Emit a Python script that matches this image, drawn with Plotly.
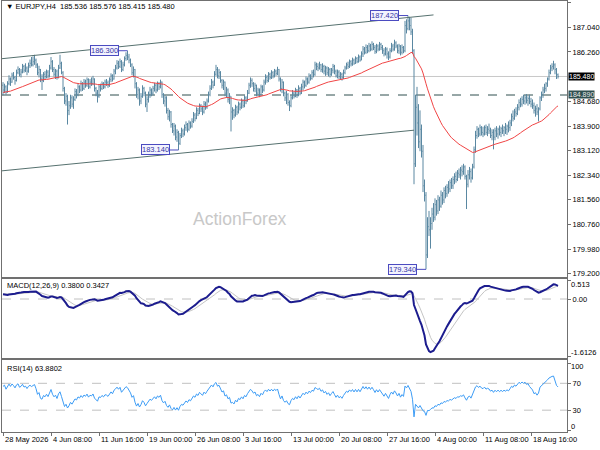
import plotly.graph_objects as go

# EURJPY H4 bars, 28 May - 21 Aug 2026 (open = previous close)
first_open = 185.20
closes = [
    185.05, 185.15, 184.98, 185.25, 185.40, 185.30, 185.52, 185.45, 185.35, 185.60,
    185.70, 185.55, 185.62, 185.80, 185.68, 185.75, 185.65, 185.82, 185.90, 185.85,
    185.95, 186.00, 185.85, 185.60, 185.70, 185.40, 185.35, 185.55, 185.48, 185.62,
    185.50, 185.75, 185.95, 185.70, 185.55, 185.65, 185.45, 185.75, 185.90, 185.60,
    185.10, 184.70, 184.85, 184.40, 184.55, 184.80, 184.60, 184.75, 185.00, 184.90,
    185.15, 185.05, 185.25, 185.10, 185.30, 185.20, 185.38, 185.15, 185.30, 185.25,
    185.40, 185.10, 184.95, 184.85, 185.15, 185.10, 185.25, 185.15, 185.30, 185.28,
    185.20, 185.38, 185.50, 185.40, 185.65, 185.75, 185.90, 185.80, 185.95, 185.70,
    185.85, 186.05, 186.15, 186.10, 186.00, 185.85, 185.60, 185.70, 185.25, 184.90,
    185.05, 184.70, 184.85, 185.10, 184.95, 184.60, 184.75, 184.90, 185.05, 184.95,
    185.10, 185.20, 185.05, 185.25, 185.15, 185.30, 184.90, 184.70, 184.80, 184.40,
    184.20, 184.35, 183.95, 183.75, 183.90, 183.55, 183.70, 183.35, 183.60, 183.75,
    183.65, 183.85, 183.95, 183.80, 184.00, 183.90, 184.05, 184.25, 184.15, 184.40,
    184.30, 184.55, 184.45, 184.35, 184.60, 184.50, 184.70, 184.90, 185.10, 185.30,
    185.20, 185.55, 185.70, 185.50, 185.60, 185.35, 185.20, 185.30, 184.95, 185.05,
    184.75, 184.85, 184.35, 184.40, 184.25, 184.50, 184.35, 184.60, 184.50, 184.70,
    184.55, 184.80, 184.70, 184.95, 185.20, 185.35, 185.25, 185.10, 185.20, 184.95,
    185.05, 184.90, 185.15, 185.05, 185.30, 185.45, 185.35, 185.55, 185.45, 185.60,
    185.50, 185.65, 185.58, 185.70, 185.40, 185.10, 185.30, 184.95, 184.80, 184.90,
    184.65, 184.55, 184.80, 184.95, 184.85, 185.05, 184.90, 185.10, 184.95, 185.15,
    185.30, 185.20, 185.40, 185.30, 185.50, 185.42, 185.60, 185.55, 185.85, 185.80,
    185.75, 185.85, 185.70, 185.80, 185.65, 185.75, 185.60, 185.70, 185.55, 185.68,
    185.80, 185.65, 185.50, 185.62, 185.48, 185.55, 185.45, 185.60, 185.75, 185.85,
    185.80, 185.95, 185.88, 186.00, 185.90, 186.05, 185.95, 186.10, 186.00, 186.20,
    186.35, 186.25, 186.40, 186.30, 186.45, 186.35, 186.50, 186.40, 186.28, 186.45,
    186.35, 186.50, 186.40, 186.30, 186.20, 186.35, 186.20, 186.10, 186.30, 186.45,
    186.35, 186.55, 186.45, 186.30, 186.45, 186.25, 186.40, 186.30, 187.10, 187.00,
    187.25, 187.10, 186.90, 186.30, 182.70, 184.50, 184.00, 183.40, 183.80, 183.10,
    182.00, 181.70, 179.80, 180.70, 180.60, 180.80, 181.10, 181.00, 181.40, 181.20,
    181.55, 181.35, 181.70, 181.55, 181.85, 181.75, 181.95, 181.90, 182.10, 182.00,
    182.20, 182.30, 182.20, 182.40, 182.35, 182.50, 182.45, 182.60, 182.30, 182.05,
    182.35, 182.45, 182.25, 182.60, 183.15, 183.60, 183.80, 183.65, 183.85, 183.70,
    183.65, 183.85, 183.70, 183.80, 183.75, 183.60, 183.70, 183.55, 183.75, 183.65,
    183.80, 183.70, 183.82, 183.75, 183.85, 183.80, 183.90, 183.85, 184.00, 184.20,
    184.15, 184.35, 184.30, 184.50, 184.65, 184.60, 184.75, 184.70, 184.80, 184.72,
    184.78, 184.68, 184.60, 184.55, 184.40, 184.45, 184.35, 184.45, 184.80, 184.90,
    185.05, 185.10, 185.25, 185.40, 185.60, 185.75, 185.80, 185.85, 185.70, 185.536,
    185.480,
]
highs = [
    185.30, 185.25, 185.20, 185.33, 185.52, 185.45, 185.60, 185.62, 185.50, 185.70,
    185.80, 185.75, 185.72, 185.88, 185.85, 185.90, 185.80, 185.92, 186.02, 186.10,
    186.12, 186.17, 186.05, 185.90, 185.82, 185.72, 185.55, 185.62, 185.65, 185.70,
    185.68, 185.85, 186.10, 186.00, 185.78, 185.72, 185.70, 185.85, 186.17, 185.95,
    185.65, 185.15, 184.95, 184.90, 184.70, 184.90, 184.88, 184.85, 185.10, 185.08,
    185.25, 185.20, 185.35, 185.30, 185.40, 185.38, 185.45, 185.42, 185.40, 185.45,
    185.50, 185.42, 185.15, 185.05, 185.22, 185.25, 185.32, 185.30, 185.38, 185.40,
    185.35, 185.45, 185.58, 185.55, 185.72, 185.85, 186.00, 185.98, 186.05, 186.00,
    185.95, 186.12, 186.25, 186.30, 186.20, 186.05, 185.90, 185.80, 185.72, 185.30,
    185.15, 185.10, 184.95, 185.20, 185.15, 185.00, 184.85, 185.00, 185.15, 185.10,
    185.18, 185.28, 185.25, 185.32, 185.30, 185.38, 185.32, 184.95, 184.88, 184.85,
    184.48, 184.42, 184.38, 184.00, 184.00, 183.95, 183.80, 183.75, 183.68, 183.85,
    183.82, 183.95, 184.05, 184.00, 184.08, 184.05, 184.15, 184.35, 184.32, 184.50,
    184.48, 184.62, 184.60, 184.55, 184.70, 184.68, 184.78, 185.00, 185.20, 185.40,
    185.35, 185.65, 185.85, 185.78, 185.72, 185.65, 185.40, 185.38, 185.32, 185.15,
    185.10, 184.95, 184.75, 184.50, 184.45, 184.58, 184.55, 184.68, 184.65, 184.78,
    184.75, 184.88, 184.85, 185.05, 185.28, 185.45, 185.42, 185.30, 185.28, 185.22,
    185.12, 185.10, 185.22, 185.20, 185.38, 185.55, 185.52, 185.62, 185.60, 185.68,
    185.65, 185.72, 185.70, 185.79, 185.72, 185.45, 185.40, 185.32, 185.00, 185.02,
    184.95, 184.72, 184.88, 185.05, 185.00, 185.12, 185.08, 185.20, 185.15, 185.25,
    185.38, 185.35, 185.48, 185.45, 185.58, 185.55, 185.68, 185.70, 185.95, 185.92,
    185.90, 185.95, 185.88, 185.90, 185.85, 185.82, 185.80, 185.78, 185.75, 185.75,
    185.88, 185.85, 185.70, 185.70, 185.68, 185.62, 185.60, 185.70, 185.82, 185.92,
    185.95, 186.02, 186.00, 186.08, 186.05, 186.12, 186.10, 186.18, 186.15, 186.28,
    186.45, 186.42, 186.50, 186.48, 186.55, 186.52, 186.60, 186.55, 186.48, 186.52,
    186.50, 186.58, 186.55, 186.48, 186.38, 186.42, 186.40, 186.28, 186.38, 186.55,
    186.52, 186.65, 186.60, 186.50, 186.52, 186.48, 186.50, 186.45, 187.25, 187.30,
    187.42, 187.38, 187.35, 187.00, 186.35, 184.90, 185.15, 184.60, 184.40, 183.95,
    183.30, 182.20, 181.80, 181.00, 181.20, 181.00, 181.30, 181.45, 181.60, 181.55,
    181.70, 181.65, 181.85, 181.80, 181.95, 182.00, 182.05, 182.15, 182.20, 182.25,
    182.30, 182.40, 182.45, 182.50, 182.55, 182.60, 182.65, 182.70, 182.65, 182.35,
    182.50, 182.60, 182.55, 182.70, 183.25, 183.75, 183.90, 183.85, 183.95, 183.90,
    183.88, 183.92, 183.95, 183.90, 183.98, 183.85, 183.80, 183.80, 183.85, 183.90,
    183.85, 183.92, 183.88, 183.95, 183.90, 184.00, 183.95, 184.05, 184.10, 184.30,
    184.40, 184.45, 184.50, 184.60, 184.75, 184.80, 184.85, 184.90, 184.88, 184.92,
    184.85, 184.90, 184.80, 184.75, 184.65, 184.55, 184.60, 184.50, 184.85, 185.00,
    185.15, 185.25, 185.30, 185.45, 185.70, 185.85, 185.90, 185.98, 185.90, 185.75,
    185.576,
]
lows = [
    184.88, 184.95, 184.90, 184.96, 185.20, 185.18, 185.28, 185.38, 185.22, 185.32,
    185.55, 185.48, 185.45, 185.58, 185.60, 185.62, 185.52, 185.60, 185.75, 185.80,
    185.80, 185.85, 185.75, 185.52, 185.45, 185.30, 185.05, 185.30, 185.40, 185.42,
    185.42, 185.45, 185.70, 185.62, 185.48, 185.40, 185.38, 185.42, 185.72, 185.55,
    185.00, 184.60, 184.55, 183.95, 184.25, 184.45, 184.50, 184.45, 184.70, 184.78,
    184.85, 184.95, 185.00, 185.02, 185.05, 185.12, 185.15, 185.08, 185.10, 185.18,
    185.20, 185.00, 184.85, 184.65, 184.80, 185.00, 185.05, 185.08, 185.10, 185.18,
    185.12, 185.15, 185.30, 185.32, 185.38, 185.55, 185.70, 185.72, 185.75, 185.62,
    185.65, 185.80, 185.98, 186.00, 185.90, 185.78, 185.52, 185.45, 185.10, 184.80,
    184.75, 184.55, 184.60, 184.80, 184.85, 184.50, 184.35, 184.65, 184.80, 184.85,
    184.88, 185.00, 184.95, 185.00, 185.05, 185.10, 184.80, 184.60, 184.52, 184.30,
    184.10, 184.05, 183.85, 183.68, 183.60, 183.45, 183.40, 183.14, 183.30, 183.52,
    183.55, 183.60, 183.75, 183.70, 183.75, 183.82, 183.85, 184.00, 184.05, 184.12,
    184.22, 184.28, 184.35, 184.25, 184.30, 184.42, 184.45, 184.65, 184.85, 185.05,
    185.10, 185.18, 185.50, 185.42, 185.40, 185.28, 185.10, 185.05, 184.85, 184.80,
    184.65, 184.60, 183.73, 184.10, 184.15, 184.20, 184.25, 184.30, 184.40, 184.45,
    184.48, 184.50, 184.60, 184.68, 184.92, 185.12, 185.15, 185.00, 184.98, 184.85,
    184.88, 184.82, 184.88, 184.95, 185.00, 185.22, 185.28, 185.30, 185.38, 185.40,
    185.42, 185.45, 185.50, 185.52, 185.32, 185.00, 184.95, 184.85, 184.70, 184.60,
    184.55, 184.38, 184.50, 184.75, 184.78, 184.82, 184.80, 184.85, 184.88, 184.92,
    185.05, 185.10, 185.15, 185.22, 185.25, 185.35, 185.38, 185.45, 185.50, 185.68,
    185.65, 185.70, 185.62, 185.60, 185.55, 185.50, 185.52, 185.48, 185.45, 185.50,
    185.58, 185.55, 185.45, 185.42, 185.40, 185.38, 185.35, 185.40, 185.55, 185.70,
    185.72, 185.75, 185.80, 185.82, 185.85, 185.88, 185.90, 185.92, 185.95, 186.00,
    186.10, 186.18, 186.20, 186.22, 186.25, 186.28, 186.30, 186.32, 186.20, 186.22,
    186.28, 186.30, 186.32, 186.20, 186.12, 186.15, 186.05, 186.00, 186.05, 186.25,
    186.28, 186.30, 186.38, 186.22, 186.20, 186.15, 186.18, 186.22, 186.25, 186.85,
    186.95, 186.95, 186.80, 186.20, 182.05, 182.60, 183.60, 183.20, 183.10, 182.90,
    181.80, 181.50, 179.34, 179.70, 180.40, 180.00, 180.60, 180.85, 180.90, 181.05,
    181.10, 181.20, 181.30, 181.40, 181.45, 181.60, 181.65, 181.75, 181.80, 181.90,
    181.90, 182.05, 182.10, 182.15, 182.25, 182.20, 182.30, 182.35, 182.20, 181.26,
    181.95, 182.20, 182.10, 182.20, 182.55, 183.05, 183.50, 183.55, 183.58, 183.60,
    183.55, 183.60, 183.62, 183.58, 183.65, 183.52, 183.45, 183.16, 183.45, 183.55,
    183.50, 183.60, 183.55, 183.65, 183.58, 183.65, 183.62, 183.70, 183.75, 183.90,
    184.05, 184.10, 184.20, 184.25, 184.40, 184.50, 184.52, 184.60, 184.58, 184.62,
    184.55, 184.60, 184.50, 184.45, 184.30, 184.20, 184.25, 184.05, 184.40, 184.70,
    184.80, 184.95, 185.00, 185.15, 185.35, 185.55, 185.65, 185.70, 185.55, 185.40,
    185.415,
]

# time axis labels (one every 32 bars)
tick_bars = [0, 32, 64, 96, 128, 160, 192, 224, 256, 288, 320, 352]
tick_text = ['28 May 2026', '4 Jun 08:00', '11 Jun 16:00', '19 Jun 00:00', '26 Jun 08:00',
             '3 Jul 16:00', '13 Jul 00:00', '20 Jul 08:00', '27 Jul 16:00', '4 Aug 00:00',
             '11 Aug 08:00', '18 Aug 16:00']
price_ticks = [187.82, 187.04, 186.26, 184.68, 183.90, 183.12, 182.34, 181.56, 180.76, 179.98, 179.20]

# marked swing highs / lows
swing_bars = [83, 117, 270, 282]
swing_kind = ['high', 'low', 'high', 'low']

# channel trendlines (bar index, price)
upper_bars = [-2, 287]
upper_prices = [186.04, 187.44]
lower_bars = [-2, 274]
lower_prices = [182.47, 183.77]
support = 184.89

# indicator readouts shown on the chart
ma_start = 184.97
macd_start = 0.15
macd_readout = (0.3800, 0.3427)
rsi_readout = 63.8802
macd_max, macd_min = 0.513, -1.6126
rsi_levels = [30, 70]

FONT = 'Liberation Sans, Arial, sans-serif'
BAR = '#5a88a2'
FRAME = '#707070'

n = len(closes)
bars = list(range(n))
opens = [first_open] + closes[:-1]
highs = [max(h, o, c) for h, o, c in zip(highs, opens, closes)]
lows = [min(l, o, c) for l, o, c in zip(lows, opens, closes)]


def ema(values, period, seed):
    k = 2.0 / (period + 1)
    out, prev = [], seed
    for v in values:
        prev = prev + k * (v - prev)
        out.append(prev)
    return out


ma55 = ema(closes, 55, ma_start)
e12 = ema(closes, 12, ma_start + macd_start)
e26 = ema(closes, 26, ma_start)
macd = [a - b for a, b in zip(e12, e26)]
signal = ema(macd, 9, macd_start)

# RSI(14), Wilder smoothing
diffs = [0.0] + [closes[i] - closes[i - 1] for i in range(1, n)]
ag = sum(max(d, 0) for d in diffs[1:15]) / 14
al = sum(max(-d, 0) for d in diffs[1:15]) / 14
rsi = []
for d in diffs:
    ag = (ag * 13 + max(d, 0)) / 14
    al = (al * 13 + max(-d, 0)) / 14
    rsi.append(100 - 100 / (1 + ag / al) if al > 0 else 100)

fig = go.Figure()
fig.add_trace(go.Ohlc(x=bars, open=opens, high=highs, low=lows, close=closes,
                      increasing_line_color=BAR, decreasing_line_color=BAR,
                      line_width=1, tickwidth=0.4, hoverinfo='skip', xaxis='x', yaxis='y'))
fig.add_trace(go.Scatter(x=bars, y=ma55, mode='lines', line=dict(color='#f04545', width=1),
                         hoverinfo='skip', xaxis='x', yaxis='y'))
fig.add_trace(go.Scatter(x=bars, y=signal, mode='lines', line=dict(color='#c4c4c4', width=1),
                         hoverinfo='skip', xaxis='x2', yaxis='y2'))
fig.add_trace(go.Scatter(x=bars, y=macd, mode='lines', line=dict(color='#1c1c8e', width=2),
                         hoverinfo='skip', xaxis='x2', yaxis='y2'))
fig.add_trace(go.Scatter(x=bars, y=rsi, mode='lines', line=dict(color='#3d9cf5', width=1),
                         hoverinfo='skip', xaxis='x3', yaxis='y3'))

shapes = []
shapes.append(dict(type='line', xref='x', yref='y', x0=upper_bars[0], x1=upper_bars[1],
                   y0=upper_prices[0], y1=upper_prices[1], line=dict(color='#56716f', width=1)))
shapes.append(dict(type='line', xref='x', yref='y', x0=lower_bars[0], x1=lower_bars[1],
                   y0=lower_prices[0], y1=lower_prices[1], line=dict(color='#56716f', width=1)))
shapes.append(dict(type='line', xref='x domain', yref='y', x0=0, x1=1, y0=support, y1=support,
                   layer='below', line=dict(color='#2f4f4f', width=1, dash='dash')))
shapes.append(dict(type='line', xref='x domain', yref='y', x0=0, x1=1, y0=closes[-1], y1=closes[-1],
                   layer='below', line=dict(color='#c8c8c8', width=1)))
shapes.append(dict(type='line', xref='x2 domain', yref='y2', x0=0, x1=1, y0=0, y1=0,
                   layer='below', line=dict(color='#c0c0c0', width=1, dash='dash')))
for lv in rsi_levels:
    shapes.append(dict(type='line', xref='x3 domain', yref='y3', x0=0, x1=1, y0=lv, y1=lv,
                       layer='below', line=dict(color='#c0c0c0', width=1, dash='dash')))

annotations = []
small = dict(family=FONT, size=7.5, color='black')

for b, kind in zip(swing_bars, swing_kind):
    p = highs[b] if kind == 'high' else lows[b]
    shapes.append(dict(type='line', xref='x', yref='y', x0=b - 6, x1=b, y0=p, y1=p,
                       line=dict(color='#4b4bc0', width=1)))
    annotations.append(dict(x=b - 6, y=p, xref='x', yref='y', xanchor='right', yanchor='middle',
                            text=f'{p:.3f}', showarrow=False, bgcolor='#f3f3ff',
                            bordercolor='#4b4bc0', borderwidth=1, borderpad=0,
                            font=dict(family=FONT, size=7.5, color='#3535a5')))

# price boxes on the right scale
annotations.append(dict(x=568 / 600, y=closes[-1], xref='paper', yref='y', xanchor='left',
                        yanchor='middle', text=f'{closes[-1]:.3f}', showarrow=False,
                        bgcolor='black', borderpad=0, font=dict(family=FONT, size=7, color='white')))
annotations.append(dict(x=568 / 600, y=support, xref='paper', yref='y', xanchor='left',
                        yanchor='middle', text=f'{support:.3f}', showarrow=False, yshift=1,
                        bgcolor='#2f4f4f', borderpad=0, font=dict(family=FONT, size=7, color='#e8e8e8')))

# edge labels of the indicator scales sit just inside their panels
for val, txt, yanch, ref in [(macd_max, f'{macd_max:.3f}', 'top', 'y2'),
                             (macd_min, f'{macd_min:.4f}', 'bottom', 'y2'),
                             (100, '100', 'top', 'y3'), (0, '0', 'bottom', 'y3')]:
    annotations.append(dict(x=569 / 600, y=val, xref='paper', yref=ref, xanchor='left',
                            yanchor=yanch, text=txt, showarrow=False, font=small,
                            yshift=3 if yanch == 'top' else -3))

title = f'\u25bc EURJPY,H4  {opens[-1]:.3f} {highs[-1]:.3f} {lows[-1]:.3f} {closes[-1]:.3f}'
annotations.append(dict(x=4 / 600, y=1 - 7 / 450, xref='paper', yref='paper', xanchor='left',
                        yanchor='middle', text=title, showarrow=False, font=small))
annotations.append(dict(x=5 / 600, y=1 - 287 / 450, xref='paper', yref='paper', xanchor='left',
                        yanchor='middle', showarrow=False, font=small,
                        text=f'MACD(12,26,9) {macd_readout[0]:.4f} {macd_readout[1]:.4f}'))
annotations.append(dict(x=5 / 600, y=1 - 370 / 450, xref='paper', yref='paper', xanchor='left',
                        yanchor='middle', showarrow=False, font=small,
                        text=f'RSI(14) {rsi_readout:.4f}'))
annotations.append(dict(x=240 / 600, y=1 - 220 / 450, xref='paper', yref='paper', showarrow=False,
                        text='ActionForex', font=dict(family=FONT, size=17.5, color='#c8c8c8')))

for b, t in zip(tick_bars, tick_text):
    annotations.append(dict(x=b, y=1 - 441 / 450, xref='x3', yref='paper', xanchor='left',
                            yanchor='middle', text=t, showarrow=False, font=small))

xdom = [2 / 600, 567 / 600]
xrange_ = [-0.67, 376]
common_x = dict(domain=xdom, range=xrange_, showgrid=False, zeroline=False, showline=True,
                mirror=True, linecolor=FRAME, linewidth=1, showticklabels=False)
common_y = dict(side='right', showgrid=False, zeroline=False, showline=True, mirror=True,
                linecolor=FRAME, linewidth=1, ticks='outside', ticklen=3, tickcolor=FRAME,
                tickfont=small)

fig.update_layout(
    width=600, height=450,
    margin=dict(l=0, r=0, t=0, b=0),
    paper_bgcolor='white', plot_bgcolor='white',
    showlegend=False,
    xaxis=dict(common_x, anchor='y', rangeslider=dict(visible=False)),
    xaxis2=dict(common_x, anchor='y2', matches='x'),
    xaxis3=dict(common_x, anchor='y3', matches='x', ticks='outside', ticklen=3,
                tickcolor=FRAME, tickvals=tick_bars),
    yaxis=dict(common_y, domain=[1 - 278 / 450, 1 - 1 / 450], range=[179.104, 187.883],
               tickvals=price_ticks, ticktext=[f'{v:.3f}' for v in price_ticks]),
    yaxis2=dict(common_y, domain=[1 - 360 / 450, 1 - 280 / 450], range=[-1.669, 0.569],
                tickvals=[macd_max, 0.0, macd_min], ticktext=['', '0.00', '']),
    yaxis3=dict(common_y, domain=[1 - 434 / 450, 1 - 362 / 450], range=[-2.6, 104.1],
                tickvals=[100, 70, 30, 0], ticktext=['', '70', '30', '']),
    shapes=shapes,
    annotations=annotations,
)

# the page body has a default 8px margin; drop it so the figure fills the window
fig.write_html('out.html', config={'displayModeBar': False},
               post_script="document.body.style.margin='0';")
